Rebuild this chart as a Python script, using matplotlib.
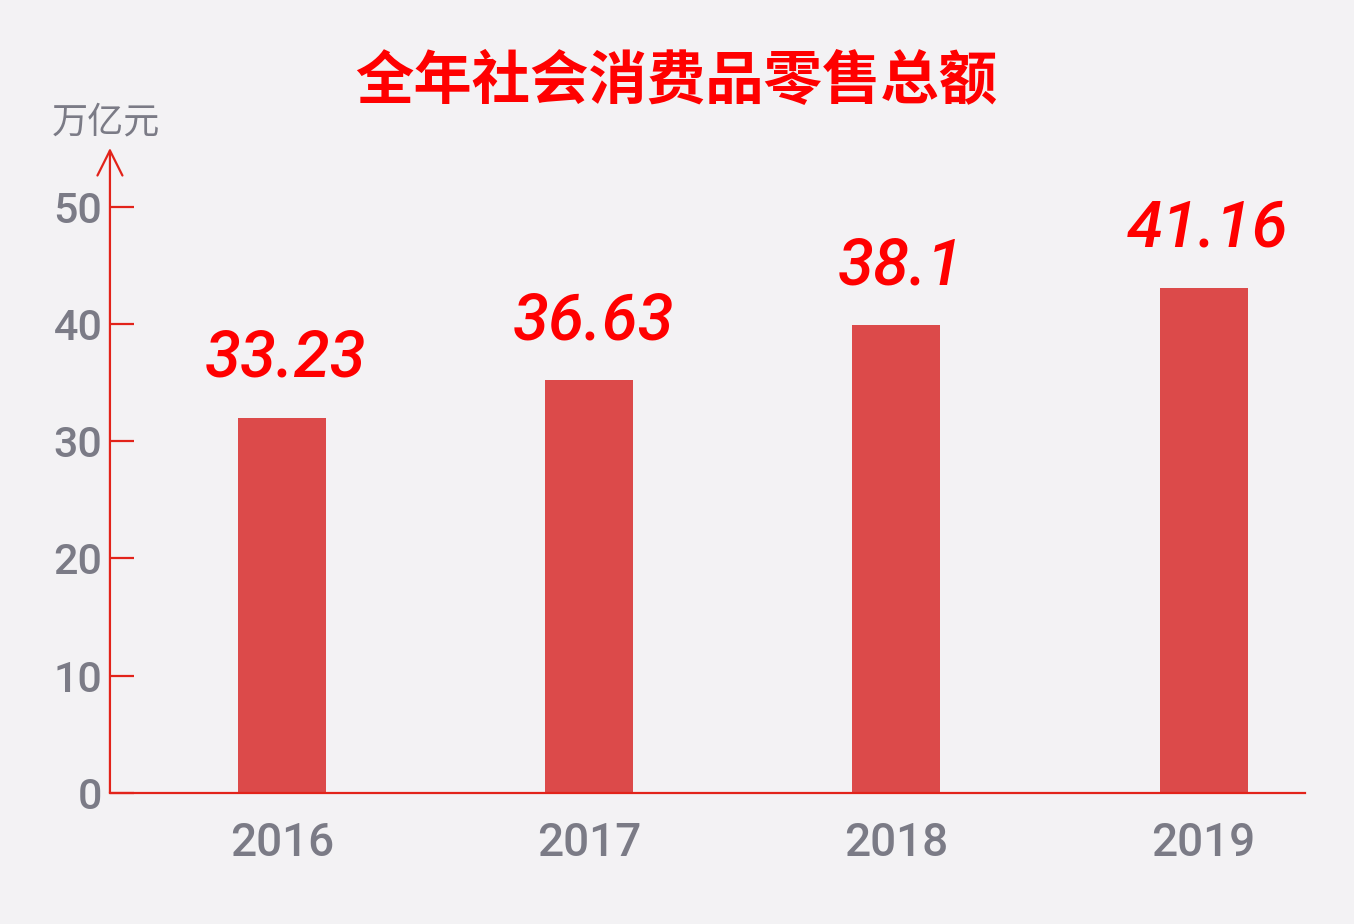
import matplotlib
matplotlib.use("Agg")
import matplotlib.pyplot as plt

# -----------------------------------------------------------------------------
# DATA
# -----------------------------------------------------------------------------

years       = ["2016", "2017", "2018", "2019"]
bar_heights = [32.0, 35.2, 39.9, 43.1]          # bar heights as drawn
value_text  = ["33.23", "36.63", "38.1", "41.16"]  # printed values
y_ticks     = [0, 10, 20, 30, 40, 50]

TITLE = "全年社会消费品零售总额"
UNIT  = "万亿元"

BG      = "#f3f2f4"
BAR_RED = "#dc4a4a"
AXIS    = "#e2231a"
LABEL   = "#ff0000"
GREY    = "#7b7b86"

CJK = ["Noto Sans CJK SC", "DejaVu Sans"]
NUM = ["Roboto", "DejaVu Sans"]

# -----------------------------------------------------------------------------
# PLOT
# -----------------------------------------------------------------------------

fig = plt.figure(figsize=(13.54, 9.24), dpi=100, facecolor=BG)
ax = fig.add_axes([0.0812, 0.1418, 0.8826, 0.698])
ax.set_facecolor(BG)

x = list(range(len(years)))
ax.bar(x, bar_heights, width=0.287, color=BAR_RED, zorder=2)

for xi, h, txt in zip(x, bar_heights, value_text):
    ax.annotate(txt, (xi, h), xytext=(3, 20), textcoords="offset points",
                ha="center", va="bottom", fontsize=47, style="italic",
                fontweight="medium", color=LABEL, family=NUM)

ax.set_xlim(-0.56, 3.33)
ax.set_ylim(0, 55)

for side in ["top", "right", "left"]:
    ax.spines[side].set_visible(False)
ax.spines["bottom"].set_color(AXIS)
ax.spines["bottom"].set_linewidth(1.6)

# y axis with arrow head
ax.annotate("", xy=(0, 1.0), xycoords="axes fraction", xytext=(0, 0),
            arrowprops=dict(arrowstyle="->", color=AXIS, lw=1.6,
                            mutation_scale=45, shrinkA=0, shrinkB=0))

ax.set_yticks(y_ticks)
ax.set_yticklabels([str(v) for v in y_ticks], family=NUM, fontweight="medium")
ax.tick_params(axis="y", direction="in", length=17, width=1.6, color=AXIS,
               labelsize=31, labelcolor=GREY, pad=-4)
for lab in ax.get_yticklabels():
    lab.set_x(-0.011)
    lab.set_ha("right")

ax.set_xticks(x)
ax.set_xticklabels(years, family=NUM, fontweight="medium")
ax.tick_params(axis="x", length=0, labelsize=33, labelcolor=GREY, pad=20)

fig.text(0.038, 0.867, UNIT, fontsize=26, color=GREY, family=CJK,
         ha="left", va="center")
fig.text(0.4995, 0.911, TITLE, fontsize=42, color=LABEL, family=CJK,
         fontweight="bold", ha="center", va="center")

plt.savefig("out.png", dpi=100, facecolor=BG)
plt.close()
